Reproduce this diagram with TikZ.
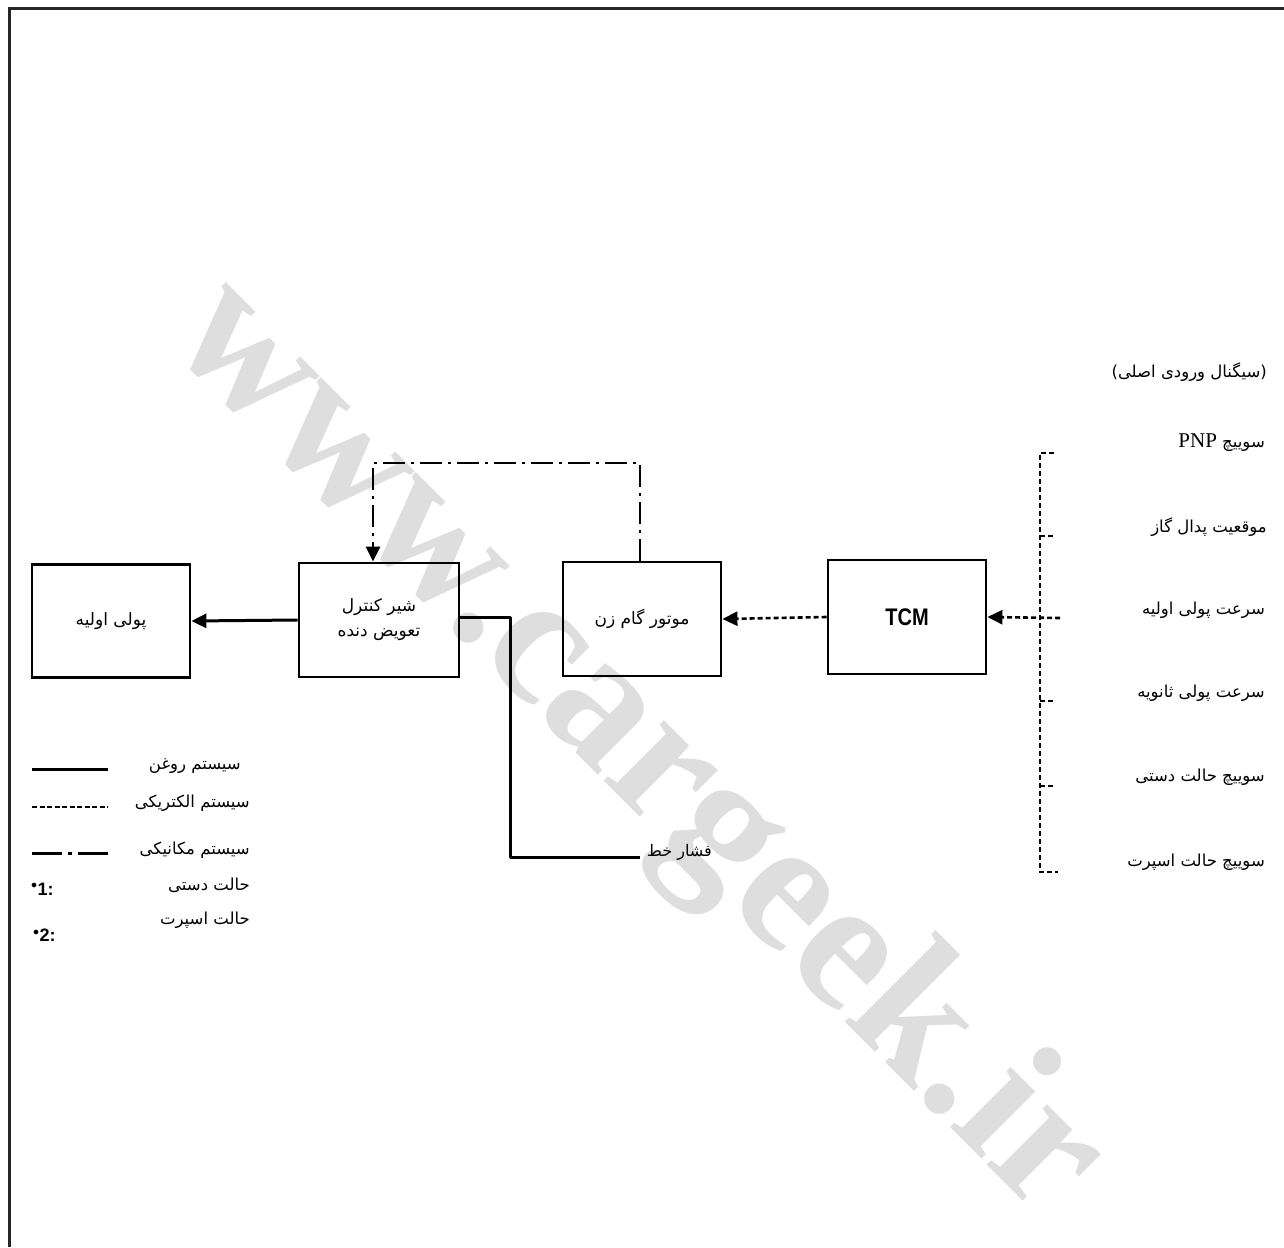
\documentclass[tikz,border=0pt]{standalone}
\usepackage{fontspec}
\setmainfont{Liberation Serif}
\newfontfamily\fa[Script=Arabic]{DejaVu Sans}
\newfontfamily\hv{Liberation Sans}
\TeXXeTstate=1
\usetikzlibrary{arrows.meta}
\tikzset{
  blk/.style={draw, line width=2.8pt, inner sep=0pt, minimum width=158pt, minimum height=113pt, align=center, font=\fa\fontsize{17}{25}\selectfont},
  oil/.style={line width=3pt},
  elec/.style={line width=2.6pt, dash pattern=on 5pt off 3pt},
  mech/.style={line width=2.6pt, dash pattern=on 22pt off 6pt on 3pt off 6pt},
  tip/.style={-{Triangle[length=15pt,width=14pt]}},
  lbl/.style={anchor=east, inner sep=0pt, font=\fa\fontsize{16.5}{20}\selectfont},
  frame/.style={line width=3pt, black!85}
}
\begin{document}
\begin{tikzpicture}[x=1pt,y=-1pt]
\useasboundingbox (0,0) rectangle (1284,1247);
% watermark
\node[rotate=-45, text=black!13, font=\bfseries\fontsize{186}{200}\selectfont] (wm) at (635,750) {www.cargeek.ir};
% frame
\coordinate (f1) at (9,1247);
\coordinate (f2) at (9,9);
\coordinate (f3) at (1284,9);
\draw[frame] (f1) -- (f2) -- (f3);
% blocks
\node[blk] (pulley) at (111,621) {\beginR پولی اولیه\endR};
\node[blk, minimum width=160pt, minimum height=114pt] (valve) at (379,620) {\beginR شیر کنترل\endR\\\beginR تعویض دنده\endR};
\node[blk, minimum height=114pt] (stepper) at (642,619) {\beginR موتور گام زن\endR};
\node[blk, minimum height=114pt, font=\hv\bfseries\fontsize{20}{20}\selectfont] (tcm) at (907,617) {\scalebox{1}[1.2]{TCM}};
% connectors
\draw[oil,tip] (valve.west) -- (pulley.east);
\draw[elec,tip] (tcm.west) -- (stepper.east);
\coordinate (inp) at (1060,618);
\draw[elec,tip] (inp) -- (tcm.east);
% mechanical link
\coordinate (m1) at (640,463);
\coordinate (m2) at (373,463);
\draw[mech,tip] (stepper.north -| m1) -- (m1) -- (m2) -- (m2 |- valve.north);
% line pressure
\coordinate (lp1) at (510,617);
\coordinate (lp2) at (510,857);
\coordinate (lp3) at (640,857);
\draw[oil, line join=round] (valve.east |- lp1) -- (lp1) -- (lp2) -- (lp3);
\node[anchor=west, inner sep=0pt, font=\fa\fontsize{16}{20}\selectfont] (lpt) at (647,852) {\beginR فشار خط\endR};
% input bus
\coordinate (b1) at (1040,453);
\coordinate (b1e) at (1054,453);
\coordinate (b6) at (1040,872);
\coordinate (b6e) at (1058,872);
\draw[elec] (b1e) -- (b1) -- (b6) -- (b6e);
\foreach \yy in {536,701,786}{
  \draw[elec] (1040,\yy) -- (1055,\yy);
}
% input labels
\node[lbl] (sig) at (1267,372) {\beginR(سیگنال ورودی اصلی)\endR};
\node[lbl] (in1) at (1265,443) {\beginR سوییچ {\rmfamily\fontsize{21}{22}\selectfont\beginL PNP\endL}\endR};
\node[lbl] (in2) at (1267,527) {\beginR موقعیت پدال گاز\endR};
\node[lbl] (in3) at (1265,610) {\beginR سرعت پولی اولیه\endR};
\node[lbl] (in4) at (1265,693) {\beginR سرعت پولی ثانویه\endR};
\node[lbl] (in5) at (1265,777) {\beginR سوییچ حالت دستی\endR};
\node[lbl] (in6) at (1265,862) {\beginR سوییچ حالت اسپرت\endR};
% legend
\coordinate (l1a) at (32,769); \coordinate (l1b) at (108,769);
\draw[oil] (l1a) -- (l1b);
\node[lbl] (lt1) at (241,766) {\beginR سیستم روغن\endR};
\coordinate (l2a) at (32,807); \coordinate (l2b) at (108,807);
\draw[elec, line width=2pt, dash pattern=on 5pt off 2.5pt] (l2a) -- (l2b);
\node[lbl] (lt2) at (250,803) {\beginR سیستم الکتریکی\endR};
\coordinate (l3a) at (32,853); \coordinate (l3b) at (108,853);
\draw[line width=3pt, dash pattern=on 30pt off 6pt on 4pt off 6pt] (l3a) -- (l3b);
\node[lbl] (lt3) at (250,850) {\beginR سیستم مکانیکی\endR};
\node[anchor=west, inner sep=0pt, font=\hv\bfseries\fontsize{18}{18}\selectfont] (n1) at (31,889) {$^{\bullet}$1:};
\node[lbl] (lt4) at (250,885) {\beginR حالت دستی\endR};
\node[anchor=west, inner sep=0pt, font=\hv\bfseries\fontsize{18}{18}\selectfont] (n2) at (33,935) {$^{\bullet}$2:};
\node[lbl] (lt5) at (250,920) {\beginR حالت اسپرت\endR};
\end{tikzpicture}
\end{document}
